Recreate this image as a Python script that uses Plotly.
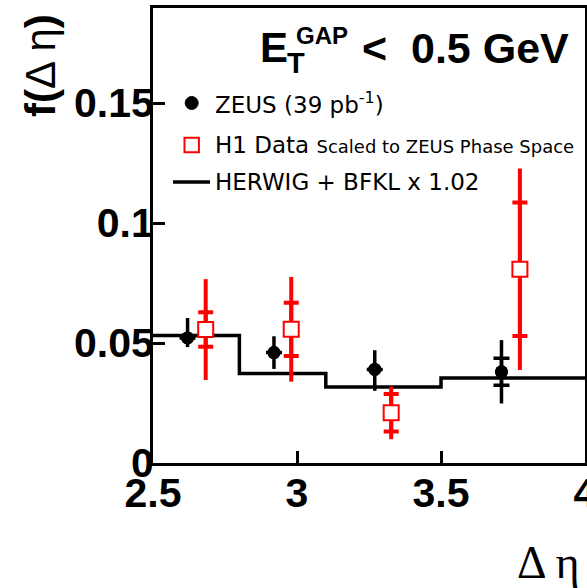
import math
import plotly.graph_objects as go

# ZEUS measurement
zeus_x = [2.62, 2.92, 3.27, 3.71]
zeus_y = [0.0521, 0.0460, 0.0390, 0.0380]
zeus_err_up = [0.0083, 0.0068, 0.0080, 0.0132]
zeus_err_down = [0.0038, 0.0068, 0.0089, 0.0132]
zeus_err_inner = [math.nan, math.nan, math.nan, 0.0056]

# H1 data scaled to ZEUS phase space
h1_x = [2.683, 2.98, 3.327, 3.774]
h1_y = [0.0556, 0.0557, 0.0209, 0.0807]
h1_err_outer = [0.0210, 0.0218, 0.0110, 0.0420]
h1_err_inner = [0.0072, 0.0111, 0.0078, 0.0278]

# HERWIG + BFKL x 1.02 histogram
herwig_edges = [2.5, 2.8, 3.1, 3.5, 4.0]
herwig_vals = [0.0531, 0.0373, 0.0317, 0.0354]

x_ticks = [2.5, 3, 3.5, 4]
x_ticktext = ["2.5", "3", "3.5", "4"]
y_ticks = [0, 0.05, 0.1, 0.15]
y_ticktext = ["0", "0.05", "0.1", "0.15"]

W, H = 587, 588
ML, MR, MT, MB = 153, 2, 8, 125
PW, PH = W - ML - MR, H - MT - MB


def px(xp):
    return (xp - ML) / PW


def py(yp):
    return (H - MB - yp) / PH


SANS = "Liberation Sans"
LEG = "DejaVu Sans"
fig = go.Figure()

# histogram drawn as steps
fig.add_trace(go.Scatter(
    x=herwig_edges, y=herwig_vals + [herwig_vals[-1]],
    mode="lines", line=dict(shape="hv", color="black", width=3.5),
    hoverinfo="skip", showlegend=False,
))

# ZEUS: total errors, then inner ticks
fig.add_trace(go.Scatter(
    x=zeus_x, y=zeus_y, mode="markers",
    marker=dict(color="black", size=13, symbol="circle"),
    error_y=dict(type="data", symmetric=False, array=zeus_err_up,
                 arrayminus=zeus_err_down, color="black", thickness=3.5, width=0),
    showlegend=False,
))
fig.add_trace(go.Scatter(
    x=zeus_x, y=zeus_y, mode="markers",
    marker=dict(color="black", size=13, symbol="circle"),
    error_y=dict(type="data", array=zeus_err_inner, color="black",
                 thickness=3.5, width=8),
    showlegend=False,
))

# H1: outer errors, then inner ticks with open squares on top
fig.add_trace(go.Scatter(
    x=h1_x, y=h1_y, mode="markers",
    marker=dict(color="white", size=1, opacity=0),
    error_y=dict(type="data", array=h1_err_outer, color="red",
                 thickness=4, width=0),
    showlegend=False,
))
fig.add_trace(go.Scatter(
    x=h1_x, y=h1_y, mode="markers",
    marker=dict(color="white", size=15, symbol="square",
                line=dict(color="red", width=2)),
    error_y=dict(type="data", array=h1_err_inner, color="red",
                 thickness=4, width=7.5),
    showlegend=False,
))

axis_common = dict(
    showline=True, mirror=True, linecolor="black", linewidth=3,
    ticks="inside", ticklen=12, tickwidth=3, tickcolor="black",
    showgrid=False, zeroline=False, automargin=False,
    tickfont=dict(family=SANS, size=41, color="black", weight="bold"),
)
fig.update_xaxes(range=[2.5, 4.0], tickvals=x_ticks, ticktext=x_ticktext,
                 ticklabeloverflow="allow", ticklabelstandoff=-8, **axis_common)
fig.update_yaxes(range=[0, PH / 2400], tickvals=y_ticks, ticktext=y_ticktext,
                 ticklabelstandoff=-12, **axis_common)

ann = []
# title E_T^GAP < 0.5 GeV
ann.append(dict(text="E", x=px(258), y=py(47.5), xanchor="left", yanchor="middle",
                font=dict(family=SANS, size=42, color="black", weight="bold")))
ann.append(dict(text="T", x=px(285), y=py(63), xanchor="left", yanchor="middle",
                font=dict(family=SANS, size=29, color="black", weight="bold")))
ann.append(dict(text="GAP", x=px(294), y=py(35.5), xanchor="left", yanchor="middle",
                font=dict(family=SANS, size=24, color="black", weight="bold")))
ann.append(dict(text="<  0.5 GeV", x=px(571), y=py(48), xanchor="right", yanchor="middle",
                font=dict(family=SANS, size=43, color="black", weight="bold")))

# legend texts
ann.append(dict(text="ZEUS (39 pb<sup>-1</sup>)", x=px(213), y=py(103),
                xanchor="left", yanchor="middle",
                font=dict(family=LEG, size=23, color="black")))
ann.append(dict(text="H1 Data <span style='font-size:18px'>Scaled to ZEUS Phase Space</span>",
                x=px(213), y=py(145), xanchor="left", yanchor="middle",
                font=dict(family=LEG, size=23, color="black")))
ann.append(dict(text="HERWIG + BFKL x 1.02", x=px(213), y=py(182),
                xanchor="left", yanchor="middle",
                font=dict(family=LEG, size=23, color="black")))

# axis titles
ann.append(dict(text="<b>f(</b>Δ η<b>)</b>", x=px(40), y=py(66), textangle=-90,
                xanchor="center", yanchor="middle",
                font=dict(family=SANS, size=42, color="black")))
ann.append(dict(text="Δ η", x=px(582), y=py(562), xanchor="right", yanchor="middle",
                font=dict(family="Liberation Serif", size=46, color="black")))

for a in ann:
    a.update(xref="paper", yref="paper", showarrow=False)

shapes = [
    dict(type="circle", xref="paper", yref="paper",
         x0=px(185.2), x1=px(198.2), y0=py(109.5), y1=py(96.5),
         fillcolor="black", line=dict(color="black", width=1)),
    dict(type="rect", xref="paper", yref="paper",
         x0=px(184.5), x1=px(198.9), y0=py(152.2), y1=py(137.8),
         fillcolor="white", line=dict(color="red", width=2)),
    dict(type="line", xref="paper", yref="paper",
         x0=px(173), x1=px(210), y0=py(182), y1=py(182),
         line=dict(color="black", width=3.5)),
]

fig.update_layout(
    width=W, height=H,
    margin=dict(l=ML, r=MR, t=MT, b=MB, autoexpand=False),
    paper_bgcolor="white", plot_bgcolor="white",
    annotations=ann, shapes=shapes, showlegend=False,
)

fig.write_html("out.html")
